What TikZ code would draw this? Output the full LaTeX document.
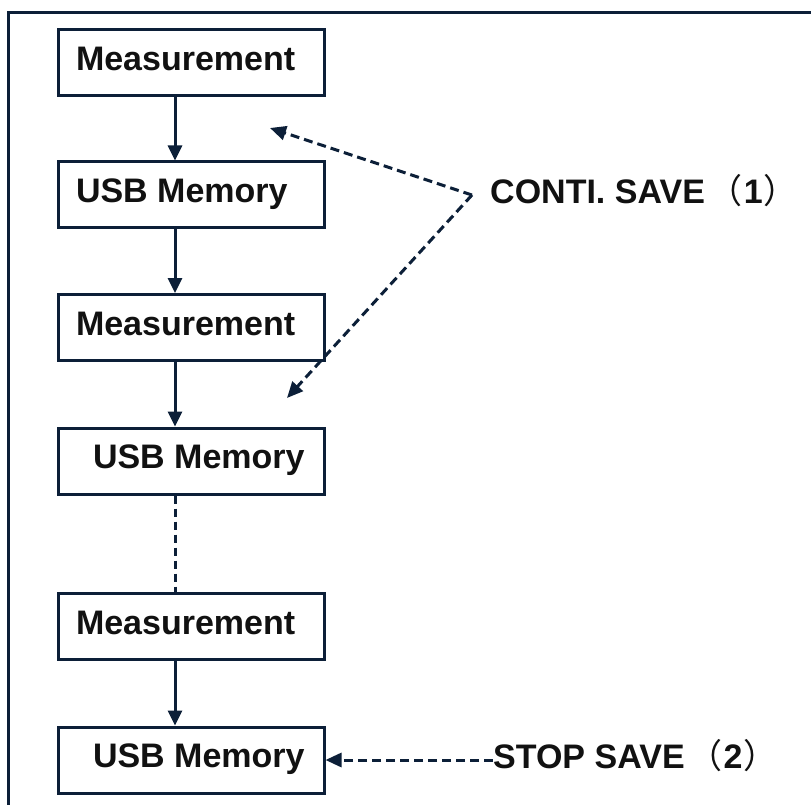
\documentclass[tikz,border=0pt]{standalone}
\usepackage{fontspec}
\setmainfont{Liberation Sans}
\newfontfamily\cjk{Noto Sans CJK SC}
\usetikzlibrary{arrows.meta}
\definecolor{linec}{HTML}{0C1F38}
\definecolor{textc}{HTML}{111111}
\newcommand{\boxtext}[2][0pt]{\makebox[230pt][l]{\hspace*{#1}#2}}
\newcommand{\fwl}{\hspace{4pt}{\cjk\mdseries （}\hspace{1pt}}
\newcommand{\fwr}{\hspace{1pt}{\cjk\mdseries ）}}
\begin{document}
\begin{tikzpicture}[x=1pt,y=-1pt,
  box/.style={draw=linec, line width=3pt, minimum width=266pt, minimum height=66pt,
    inner xsep=18pt, inner ysep=0pt,
    text height=24pt, text depth=8.6pt, font=\fontsize{34}{40}\selectfont\bfseries, text=textc},
  lbl/.style={inner sep=0pt, anchor=west, text height=24pt, text depth=0pt,
    font=\fontsize{34}{40}\selectfont\bfseries, text=textc},
  flow/.style={draw=linec, line width=3pt, -{Triangle[length=15pt,width=14pt]}},
  dflow/.style={draw=linec, line width=3pt, dash pattern=on 9pt off 5pt, -{Triangle[length=16pt,width=14pt]}},
]
\useasboundingbox (0,0) rectangle (811,805);
\fill[white] (0,0) rectangle (811,805);
% frame
\draw[linec, line width=3pt] (811,13) -- (8,13) -- (8,805);
% boxes
\node[box] (b1) at (191,63) {\boxtext{Measurement}};
\node[box] (b2) at (191,195) {\boxtext{USB Memory}};
\node[box] (b3) at (191,327.5) {\boxtext{Measurement}};
\node[box] (b4) at (191,461) {\boxtext[17pt]{USB Memory}};
\node[box] (b5) at (191,626.5) {\boxtext{Measurement}};
\node[box] (b6) at (191,760) {\boxtext[17pt]{USB Memory}};
% flow arrows
\draw[flow] ([xshift=-16pt]b1.south) -- ([xshift=-16pt]b2.north);
\draw[flow] ([xshift=-16pt]b2.south) -- ([xshift=-16pt]b3.north);
\draw[flow] ([xshift=-16pt]b3.south) -- ([xshift=-16pt]b4.north);
\draw[draw=linec, line width=3pt, dash pattern=on 8pt off 5pt] ([xshift=-16pt]b4.south) -- ([xshift=-16pt]b5.north);
\draw[flow] ([xshift=-16pt]b5.south) -- ([xshift=-16pt]b6.north);
% labels
\node[lbl] (conti) at (490,191.5) {CONTI. SAVE\fwl 1\fwr};
\node[lbl] (stop) at (493,756.5) {STOP SAVE\fwl 2\fwr};
\coordinate (apex) at (472,195);
\coordinate (t1) at (270,128);
\coordinate (t2) at (287,398);
\draw[dflow] (apex) -- (t1);
\draw[dflow] (apex) -- (t2);
\draw[dflow] (stop.west |- b6.east) -- (b6.east);
\end{tikzpicture}
\end{document}
